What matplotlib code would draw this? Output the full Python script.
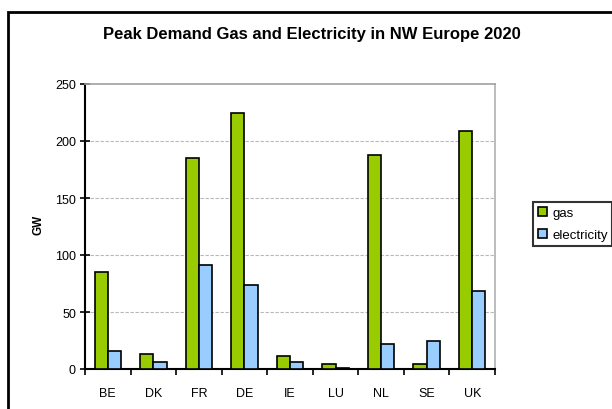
import numpy as np
import matplotlib.pyplot as plt
from matplotlib.patches import Rectangle

plt.rcParams['font.family'] = ['Liberation Sans', 'DejaVu Sans']

countries = ['BE', 'DK', 'FR', 'DE', 'IE', 'LU', 'NL', 'SE', 'UK']
gas = [85, 13, 185, 225, 11, 4, 188, 4, 209]
electricity = [16, 6, 91, 74, 6, 0.5, 22, 25, 68]

W, H = 612, 410
fig = plt.figure(figsize=(W / 100, H / 100), dpi=100)
ax = fig.add_axes([85 / W, 1 - 370 / H, (495 - 85) / W, (370 - 85) / H])

x = np.arange(len(countries))
bw = 0.29
ax.bar(x - bw / 2, gas, bw, color='#99CC00', edgecolor='black', linewidth=1.2, label='gas', zorder=3)
ax.bar(x + bw / 2, electricity, bw, color='#99CCFF', edgecolor='black', linewidth=1.2,
       label='electricity', zorder=3)

ax.set_xlim(-0.5, len(countries) - 0.5)
ax.set_ylim(0, 250)
ax.set_yticks(np.arange(0, 251, 50))
ax.set_xticks(x)
ax.set_xticklabels(countries, fontsize=9)
ax.set_xticks(np.arange(-0.5, len(countries)), minor=True)
ax.tick_params(axis='x', which='major', length=0, pad=13)
ax.tick_params(axis='x', which='minor', length=4, width=1.2, direction='out')
ax.tick_params(axis='y', length=7, width=1.2, direction='inout', labelsize=9, pad=3)

for v in [50, 100, 150, 200]:
    ax.axhline(v, color='#b8b8b8', linestyle=(0, (3, 1.5)), linewidth=0.8, zorder=1)

ax.spines['left'].set_linewidth(1.5)
ax.spines['bottom'].set_linewidth(1.5)
ax.spines['top'].set_color('#a0a0a0')
ax.spines['right'].set_color('#b0b0b0')
ax.spines['top'].set_linewidth(1.2)
ax.spines['right'].set_linewidth(1.2)

ax.set_ylabel('GW', fontsize=8.5, fontweight='bold')
ax.yaxis.set_label_coords((44 - 85) / 410, 0.51)

fig.text(312 / W, 1 - 35 / H, 'Peak Demand Gas and Electricity in NW Europe 2020',
         ha='center', va='center', fontsize=12, fontweight='bold')

leg = fig.legend(loc='upper left', bbox_to_anchor=(533 / W, 1 - 203 / H), fontsize=9.5,
                 frameon=True, fancybox=False, edgecolor='black', handlelength=0.7,
                 handleheight=0.7, handletextpad=0.4, borderpad=0.35, labelspacing=0.75,
                 borderaxespad=0)
leg.get_frame().set_linewidth(1.5)

fig.patches.append(Rectangle((8 / W, -0.05), 1.1, 1 - 13 / H + 0.05, transform=fig.transFigure,
                             fill=False, edgecolor='black', linewidth=2, clip_on=False))

fig.savefig('out.png', dpi=100)
